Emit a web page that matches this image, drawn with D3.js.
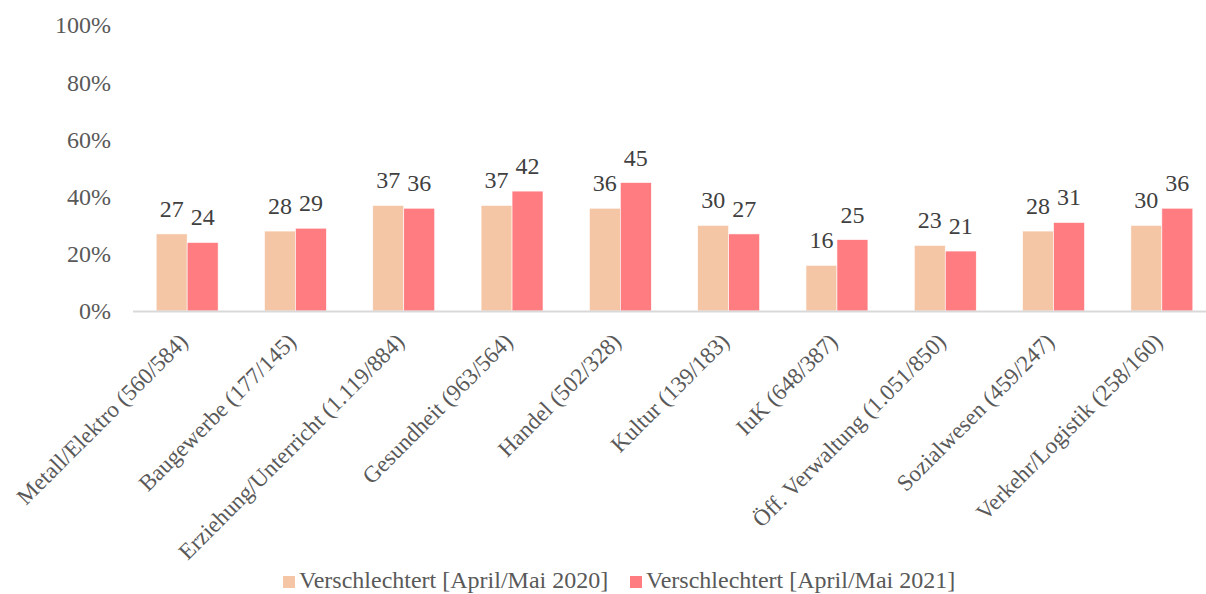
<!DOCTYPE html>
<html>
<head>
<meta charset="utf-8">
<script src="https://cdn.jsdelivr.net/npm/d3@7"></script>
<style>
  body { margin: 0; background: #fff; }
  text { font-family: "Liberation Serif", "Times New Roman", serif; }
</style>
</head>
<body>
<div id="chart"></div>
<script>
// data
let categories = ["Metall/Elektro (560/584)", "Baugewerbe (177/145)", "Erziehung/Unterricht (1.119/884)",
    "Gesundheit (963/564)", "Handel (502/328)", "Kultur (139/183)", "IuK (648/387)",
    "Öff. Verwaltung (1.051/850)", "Sozialwesen (459/247)", "Verkehr/Logistik (258/160)"];
let values2020 = [27, 28, 37, 37, 36, 30, 16, 23, 28, 30];
let values2021 = [24, 29, 36, 42, 45, 27, 25, 21, 31, 36];
let seriesNames = ["Verschlechtert [April/Mai 2020]", "Verschlechtert [April/Mai 2021]"];
let yTicks = [0, 20, 40, 60, 80, 100];

let colors = ["#F5C6A5", "#FF7C80"];
let width = 1206, height = 594;

let svg = d3.select("#chart")
    .append("svg")
    .attr("width", width)
    .attr("height", height);

// scales
let x = d3.scaleBand()
    .domain(categories)
    .range([133, 1216])
    .paddingInner(0.428)
    .paddingOuter(0.214);

let x1 = d3.scaleBand()
    .domain([0, 1])
    .range([0, x.bandwidth()]);

let y = d3.scaleLinear()
    .domain([0, 100])
    .range([311, 25.5]);

// y tick labels (no axis line)
svg.append("g")
    .selectAll("text")
    .data(yTicks)
    .enter()
    .append("text")
    .attr("x", 111)
    .attr("y", function (d) { return y(d) })
    .attr("dy", "0.33em")
    .attr("text-anchor", "end")
    .attr("font-size", 24)
    .attr("fill", "#595959")
    .text(function (d) { return d + "%" });

// bars
let rows = categories.map(function (c, i) {
    return { cat: c, vals: [values2020[i], values2021[i]] };
});

let groups = svg.selectAll(".grp")
    .data(rows)
    .enter()
    .append("g")
    .attr("class", "grp")
    .attr("transform", function (d) { return "translate(" + x(d.cat) + ",0)" });

groups.selectAll("rect")
    .data(function (d) { return d.vals.map(function (v, k) { return { k: k, v: v } }) })
    .enter()
    .append("rect")
    .attr("x", function (d) { return x1(d.k) })
    .attr("y", function (d) { return y(d.v) })
    .attr("width", x1.bandwidth())
    .attr("height", function (d) { return y(0) - y(d.v) })
    .attr("fill", function (d) { return colors[d.k] })
    .attr("stroke", "#fff")
    .attr("stroke-width", 0.6);

// value labels
groups.selectAll(".val")
    .data(function (d) { return d.vals.map(function (v, k) { return { k: k, v: v } }) })
    .enter()
    .append("text")
    .attr("class", "val")
    .attr("x", function (d) { return x1(d.k) + x1.bandwidth() / 2 })
    .attr("y", function (d) { return y(d.v) - 17 })
    .attr("text-anchor", "middle")
    .attr("font-size", 24)
    .attr("fill", "#404040")
    .text(function (d) { return d.v });

// x axis line
svg.append("line")
    .attr("x1", 133)
    .attr("x2", 1216)
    .attr("y1", y(0) + 0.5)
    .attr("y2", y(0) + 0.5)
    .attr("stroke", "#D9D9D9")
    .attr("stroke-width", 2);

// category labels, rotated
svg.append("g")
    .selectAll("text")
    .data(categories)
    .enter()
    .append("text")
    .attr("transform", function (d) {
        return "translate(" + (x(d) + x.bandwidth() / 2 + 2) + ",343) rotate(-45)";
    })
    .attr("text-anchor", "end")
    .attr("font-size", 23)
    .attr("fill", "#595959")
    .text(function (d) { return d });

// legend
let legendX = [283, 630];
let legend = svg.append("g")
    .selectAll("g")
    .data(seriesNames)
    .enter()
    .append("g")
    .attr("transform", function (d, i) { return "translate(" + legendX[i] + ",576)" });

legend.append("rect")
    .attr("width", 12)
    .attr("height", 12)
    .attr("fill", function (d, i) { return colors[i] });

legend.append("text")
    .attr("x", 16)
    .attr("y", 12)
    .attr("font-size", 24)
    .attr("fill", "#595959")
    .text(function (d) { return d });
</script>
</body>
</html>
